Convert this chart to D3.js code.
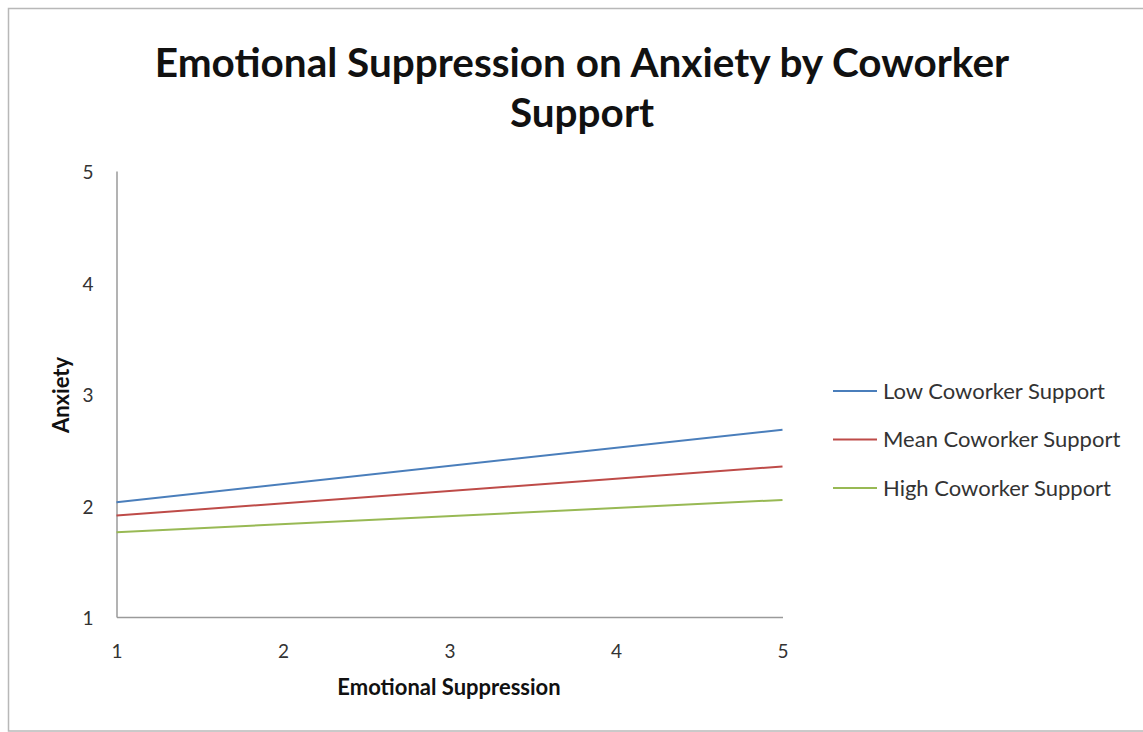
<!DOCTYPE html>
<html>
<head>
<meta charset="utf-8">
<script src="https://cdn.jsdelivr.net/npm/d3@7"></script>
<style>
  html, body { margin: 0; padding: 0; background: #fff; }
  svg { display: block; }
  text { font-family: Lato, "Open Sans", sans-serif; }
</style>
</head>
<body>
<svg id="chart" width="1143" height="732"></svg>
<script>
// Simple slopes: predicted anxiety at low and high emotional suppression
const xEnds = [1, 5];
const seriesNames = ["Low Coworker Support", "Mean Coworker Support", "High Coworker Support"];
const lowSupport = [2.03, 2.68];
const meanSupport = [1.91, 2.35];
const highSupport = [1.76, 2.05];
const seriesColors = ["#4a7ebb", "#be4b48", "#98b954"];
const xTicks = [1, 2, 3, 4, 5];
const yTicks = [1, 2, 3, 4, 5];

const svg = d3.select("#chart");

// outer frame
svg.append("rect")
  .attr("x", 8.5).attr("y", 8.5)
  .attr("width", 1150).attr("height", 722.5)
  .attr("fill", "#fff").attr("stroke", "#b8b8b8").attr("stroke-width", 1.5);

const plot = { left: 116.5, right: 782.5, top: 171, bottom: 617 };

const x = d3.scaleLinear().domain([1, 5]).range([plot.left, plot.right]);
const y = d3.scaleLinear().domain([1, 5]).range([plot.bottom, plot.top]);

// title
const title = svg.append("text")
  .attr("x", 582).attr("text-anchor", "middle")
  .attr("font-weight", "bold").attr("font-size", 40.5).attr("fill", "#111");
title.append("tspan").attr("x", 582).attr("y", 77).text("Emotional Suppression on Anxiety by Coworker");
title.append("tspan").attr("x", 582).attr("y", 127).text("Support");

// axes
const axisColor = "#9a9a9a";
const xAxis = svg.append("g")
  .attr("transform", `translate(0,${plot.bottom})`)
  .call(d3.axisBottom(x).tickValues(xTicks).tickSize(0).tickPadding(27).tickFormat(d3.format("d")));
const yAxis = svg.append("g")
  .attr("transform", `translate(${plot.left},0)`)
  .call(d3.axisLeft(y).tickValues(yTicks).tickSize(0).tickPadding(23).tickFormat(d3.format("d")));

[xAxis, yAxis].forEach(g => {
  g.select(".domain").attr("stroke", axisColor).attr("stroke-width", 1.5);
  g.selectAll("text").attr("font-family", "Lato, 'Open Sans', sans-serif")
    .attr("font-size", 19).attr("fill", "#333");
});
yAxis.selectAll("text").attr("dy", "0.42em");
xAxis.selectAll("text").attr("dy", "0.75em");

// axis titles
svg.append("text")
  .attr("x", 449).attr("y", 695).attr("text-anchor", "middle")
  .attr("font-weight", "bold").attr("font-size", 22).attr("fill", "#111")
  .text("Emotional Suppression");
svg.append("text")
  .attr("transform", "translate(69,395) rotate(-90)").attr("text-anchor", "middle")
  .attr("font-weight", "bold").attr("font-size", 22).attr("fill", "#111")
  .text("Anxiety");

// series lines
const series = [lowSupport, meanSupport, highSupport].map((vals, i) => ({
  name: seriesNames[i],
  color: seriesColors[i],
  points: xEnds.map((xv, j) => ({ x: xv, y: vals[j] }))
}));

const line = d3.line().x(d => x(d.x)).y(d => y(d.y));

svg.append("g").selectAll("path")
  .data(series)
  .join("path")
  .attr("d", d => line(d.points))
  .attr("fill", "none")
  .attr("stroke", d => d.color)
  .attr("stroke-width", 2);

// legend
const legend = svg.append("g").attr("transform", "translate(833,391)");
const item = legend.selectAll("g")
  .data(series)
  .join("g")
  .attr("transform", (d, i) => `translate(0,${i * 48.5})`);
item.append("line")
  .attr("x1", 0).attr("x2", 44).attr("y1", 0).attr("y2", 0)
  .attr("stroke", d => d.color).attr("stroke-width", 2);
item.append("text")
  .attr("x", 50).attr("y", 0).attr("dy", "0.35em")
  .attr("font-size", 22).attr("fill", "#333")
  .text(d => d.name);
</script>
</body>
</html>
